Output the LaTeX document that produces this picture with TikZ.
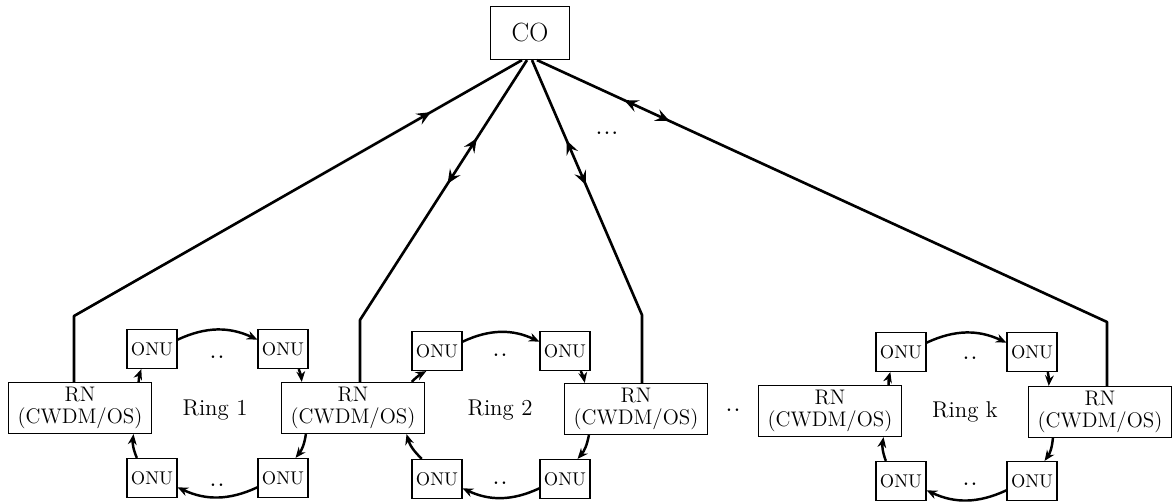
\documentclass[tikz,border=0pt]{standalone}
\usetikzlibrary{arrows.meta,decorations.markings}
\begin{document}
\begin{tikzpicture}[
  x=0.02cm, y=-0.02cm,
  office/.style={rectangle, draw, line width=0.7pt, minimum width=1.58cm, minimum height=1.06cm, font=\fontsize{15}{16}\selectfont},
  rnode/.style={rectangle, draw, line width=0.7pt, minimum width=2.86cm, minimum height=1.02cm, align=center, inner sep=1pt, font=\fontsize{12}{12.5}\selectfont},
  onu/.style={rectangle, draw, line width=0.7pt, minimum width=1cm, minimum height=0.78cm, inner sep=1pt, font=\fontsize{10.5}{12}\selectfont},
  label/.style={font=\fontsize{13}{14}\selectfont},
  dots/.style={font=\fontsize{18}{19}\selectfont, inner sep=0pt},
  feeder/.style={line width=1.5pt, line join=round},
  upflow/.style={postaction={decorate, decoration={markings, mark=at position #1 with {\arrowreversed{Stealth[length=8pt,width=7pt,inset=3pt]}}}}},
  biflow/.style 2 args={postaction={decorate, decoration={markings, mark=at position #1 with {\arrowreversed{Stealth[length=8pt,width=7pt,inset=3pt]}}, mark=at position #2 with {\arrow{Stealth[length=8pt,width=7pt,inset=3pt]}}}}},
  ringlink/.style={-{Stealth[length=6pt,width=5pt]}, line width=1.4pt}
]
  \useasboundingbox (0,0) rectangle (1173,502);
  \node[office] (CO) at (530,33) {CO};
  \node[rnode] (RN1) at (80,408) {RN\\(CWDM/OS)};
  \node[rnode] (RN2) at (353,408) {RN\\(CWDM/OS)};
  \node[rnode] (RN3) at (636,409) {RN\\(CWDM/OS)};
  \node[rnode] (RN4) at (830,411) {RN\\(CWDM/OS)};
  \node[rnode] (RN5) at (1100,412) {RN\\(CWDM/OS)};
  \node[onu] (ONU1a) at (152,349) {ONU};
  \node[onu] (ONU1b) at (283,349) {ONU};
  \node[onu] (ONU1c) at (152,478) {ONU};
  \node[onu] (ONU1d) at (283,478) {ONU};
  \node[onu] (ONU2a) at (437,351) {ONU};
  \node[onu] (ONU2b) at (565,351) {ONU};
  \node[onu] (ONU2c) at (437,479) {ONU};
  \node[onu] (ONU2d) at (565,479) {ONU};
  \node[onu] (ONUka) at (901,352) {ONU};
  \node[onu] (ONUkb) at (1032,352) {ONU};
  \node[onu] (ONUkc) at (901,481) {ONU};
  \node[onu] (ONUkd) at (1032,481) {ONU};
  \node[label] (ring1) at (215,410) {Ring 1};
  \node[label] (ring2) at (500,410) {Ring 2};
  \node[label] (ringk) at (965,412) {Ring k};
  \node[dots] (dots1t) at (217,357) {..};
  \node[dots] (dots1b) at (217,485) {..};
  \node[dots] (dots2t) at (500,355) {..};
  \node[dots] (dots2b) at (500,483) {..};
  \node[dots] (dotskt) at (970,358) {..};
  \node[dots] (dotskb) at (970,484) {..};
  \node[dots] (dotsrn) at (733,410) {..};
  \node[dots] (dotsco) at (607,133) {...};
  \coordinate (b1) at (74,316);
  \coordinate (b2) at (360,320);
  \coordinate (b3) at (642,315);
  \coordinate (b4) at (1107,322);
  \draw[feeder, upflow=2.1cm] ([xshift=-0.16cm]CO.south) -- (b1) -- (b1 |- RN1.north);
  \draw[feeder, biflow={1.86cm}{2.94cm}] ([xshift=-0.06cm]CO.south) -- (b2) -- (b2 |- RN2.north);
  \draw[feeder, biflow={1.75cm}{2.72cm}] ([xshift=0.04cm]CO.south) -- (b3) -- (b3 |- RN3.north);
  \draw[feeder, biflow={1.92cm}{2.92cm}] ([xshift=0.14cm]CO.south) -- (b4) -- (b4 |- RN5.north);
  \draw[ringlink] (RN1.24) to[bend left=8] (ONU1a.242);
  \draw[ringlink] (ONU1a.20) to[bend left=25] (ONU1b.160);
  \draw[ringlink] (ONU1b.-52) to[bend left=8] (RN2.153);
  \draw[ringlink] (RN2.209) to[bend left=15] (ONU1d.58);
  \draw[ringlink] (ONU1d.200) to[bend left=25] (ONU1c.-20);
  \draw[ringlink] (ONU1c.127) to[bend left=15] (RN1.-26);
  \draw[ringlink] (RN2.24) to[bend left=8] (ONU2a.242);
  \draw[ringlink] (ONU2a.20) to[bend left=25] (ONU2b.160);
  \draw[ringlink] (ONU2b.-52) to[bend left=8] (RN3.153);
  \draw[ringlink] (RN3.209) to[bend left=15] (ONU2d.58);
  \draw[ringlink] (ONU2d.200) to[bend left=25] (ONU2c.-20);
  \draw[ringlink] (ONU2c.127) to[bend left=15] (RN2.-26);
  \draw[ringlink] (RN4.24) to[bend left=8] (ONUka.242);
  \draw[ringlink] (ONUka.20) to[bend left=25] (ONUkb.160);
  \draw[ringlink] (ONUkb.-52) to[bend left=8] (RN5.153);
  \draw[ringlink] (RN5.209) to[bend left=15] (ONUkd.58);
  \draw[ringlink] (ONUkd.200) to[bend left=25] (ONUkc.-20);
  \draw[ringlink] (ONUkc.127) to[bend left=15] (RN4.-26);
\end{tikzpicture}
\end{document}
